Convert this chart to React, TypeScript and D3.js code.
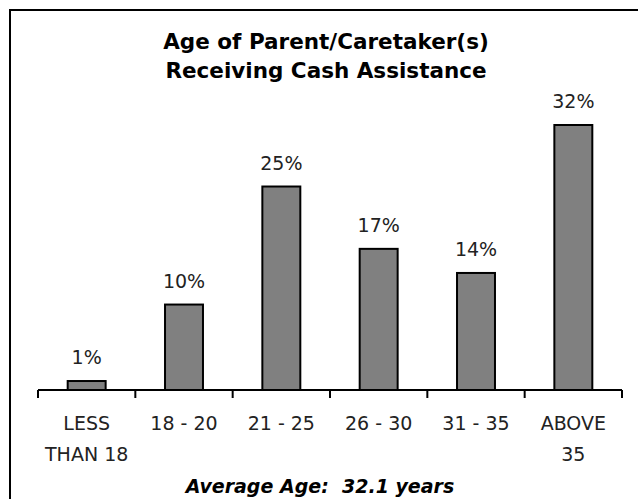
import React, { useEffect, useRef } from 'react';
import * as d3 from 'd3';

const categories = ['LESS|THAN 18', '18 - 20', '21 - 25', '26 - 30', '31 - 35', 'ABOVE|35'];
const percents = [1.2, 10.4, 24.6, 17.1, 14.2, 32.0];
const titleLines = ['Age of Parent/Caretaker(s)', 'Receiving Cash Assistance'];
const footnote = 'Average Age:  32.1 years';

const App = () => {
  const svgRef = useRef<SVGSVGElement>(null);

  useEffect(() => {
    const svg = d3.select(svgRef.current);
    svg.selectAll('*').remove();

    const font = '"DejaVu Sans", Verdana, sans-serif';
    const baseY = 390;

    const x = d3.scaleBand<string>()
      .domain(categories)
      .range([38, 622])
      .paddingInner(0.61)
      .paddingOuter(0.305);

    const y = d3.scaleLinear()
      .domain([0, 32])
      .range([baseY, 124]);

    // frame (runs off the right/bottom edge like the original)
    svg.append('rect')
      .attr('x', 10)
      .attr('y', 10)
      .attr('width', 660)
      .attr('height', 520)
      .attr('fill', 'white')
      .attr('stroke', '#000')
      .attr('stroke-width', 2);

    svg.append('g')
      .selectAll('text')
      .data(titleLines)
      .enter()
      .append('text')
      .attr('x', 326)
      .attr('y', (d, i) => 49 + i * 29)
      .attr('text-anchor', 'middle')
      .attr('font-family', font)
      .attr('font-weight', 'bold')
      .attr('font-size', '21.5px')
      .attr('fill', '#000')
      .text(d => d);

    const data = categories.map((c, i) => ({ c, v: percents[i] }));

    svg.append('g')
      .selectAll('rect')
      .data(data)
      .enter()
      .append('rect')
      .attr('x', d => x(d.c)!)
      .attr('y', d => y(d.v) + 1)
      .attr('width', x.bandwidth())
      .attr('height', d => baseY - y(d.v) - 1)
      .attr('fill', '#808080')
      .attr('stroke', '#000')
      .attr('stroke-width', 2);

    svg.append('g')
      .selectAll('text')
      .data(data)
      .enter()
      .append('text')
      .attr('x', d => x(d.c)! + x.bandwidth() / 2)
      .attr('y', d => y(d.v) - 16)
      .attr('text-anchor', 'middle')
      .attr('font-family', font)
      .attr('font-size', '19px')
      .attr('fill', '#222')
      .text(d => d3.format('.0f')(d.v) + '%');

    // axis line and ticks at band boundaries
    const step = x.step();
    const start = x.range()[0];
    svg.append('line')
      .attr('x1', start)
      .attr('x2', x.range()[1])
      .attr('y1', baseY)
      .attr('y2', baseY)
      .attr('stroke', '#000')
      .attr('stroke-width', 2);

    svg.append('g')
      .selectAll('line')
      .data(d3.range(categories.length + 1))
      .enter()
      .append('line')
      .attr('x1', i => start + i * step)
      .attr('x2', i => start + i * step)
      .attr('y1', baseY)
      .attr('y2', baseY + 8)
      .attr('stroke', '#000')
      .attr('stroke-width', 2);

    const labels = svg.append('g')
      .selectAll('text')
      .data(categories)
      .enter()
      .append('text')
      .attr('text-anchor', 'middle')
      .attr('font-family', font)
      .attr('font-size', '19px')
      .attr('fill', '#222');

    labels.selectAll('tspan')
      .data(d => d.split('|').map(t => ({ t, c: d })))
      .enter()
      .append('tspan')
      .attr('x', d => x(d.c)! + x.bandwidth() / 2)
      .attr('y', (d, i) => 430 + i * 31)
      .text(d => d.t);

    svg.append('text')
      .attr('x', 320)
      .attr('y', 493)
      .attr('text-anchor', 'middle')
      .attr('font-family', font)
      .attr('font-weight', 'bold')
      .attr('font-style', 'italic')
      .attr('font-size', '19px')
      .attr('fill', '#000')
      .style('white-space', 'pre')
      .text(footnote);
  }, []);

  return (
    <svg
      ref={svgRef}
      width={638}
      height={499}
      style={{ position: 'absolute', left: 0, top: 0, background: 'white' }}
    />
  );
};

export default App;
